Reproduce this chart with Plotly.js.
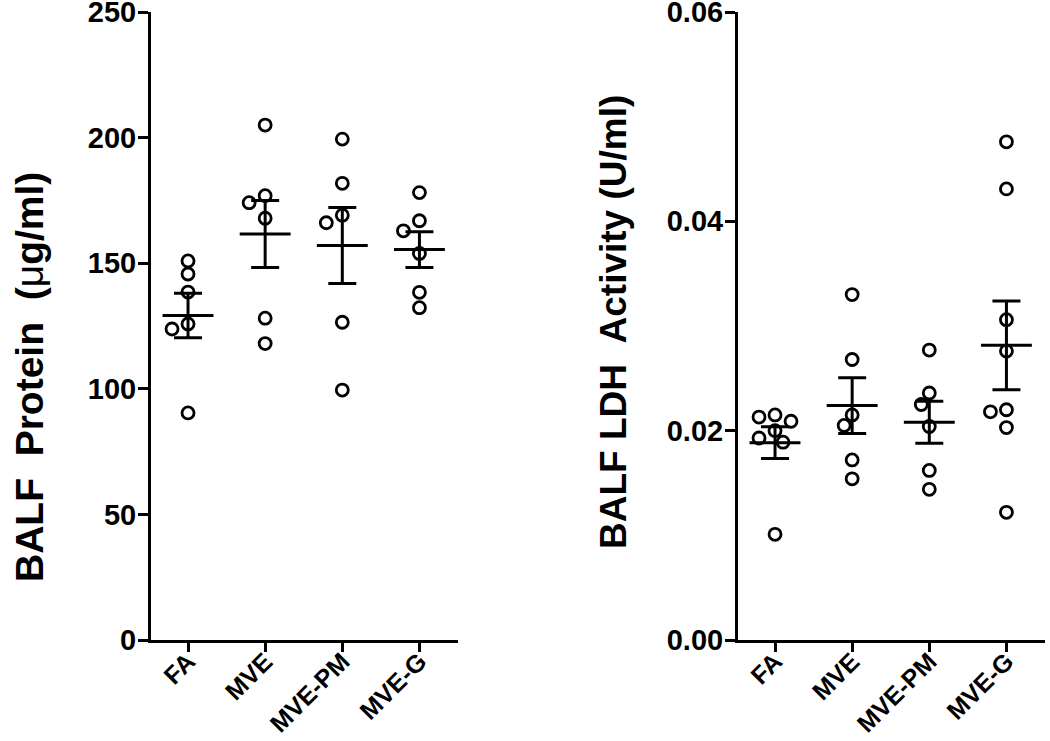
<!DOCTYPE html>
<html>
<head>
<meta charset="utf-8">
<script src="https://cdn.plot.ly/plotly-3.0.1.min.js"></script>
<style>html,body{margin:0;padding:0;background:#fff;}#chart{width:1050px;height:741px;}</style>
</head>
<body>
<div id="chart"></div>
<script>
// ---- data ----
const categories = ['FA', 'MVE', 'MVE-PM', 'MVE-G'];

const proteinFA    = [150.9, 145.7, 138.5, 125.8, 123.8, 90.4];
const proteinMVE   = [205.0, 176.9, 174.1, 167.9, 128.1, 118.0];
const proteinMVEPM = [199.4, 181.8, 169.1, 166.1, 126.5, 99.5];
const proteinMVEG  = [178.1, 166.9, 162.9, 153.9, 138.4, 132.3];

const ldhFA    = [0.0215, 0.0213, 0.0209, 0.0200, 0.0193, 0.0189, 0.0101];
const ldhMVE   = [0.0330, 0.0268, 0.0215, 0.0205, 0.0172, 0.0154];
const ldhMVEPM = [0.0277, 0.0236, 0.0225, 0.0204, 0.0162, 0.0144];
const ldhMVEG  = [0.0476, 0.0431, 0.0306, 0.0276, 0.0220, 0.0218, 0.0203, 0.0122];

const proteinTicks = [0, 50, 100, 150, 200, 250];
const ldhTicks = [0, 0.02, 0.04, 0.06];
const ldhTickText = ['0.00', '0.02', '0.04', '0.06'];

const proteinTitle = 'BALF\u00a0\u00a0Protein\u00a0\u00a0(<span style="font-weight:normal">\u03bc</span>g/ml)';
const ldhTitle = 'BALF LDH\u00a0\u00a0Activity (U/ml)';

// ---- layout constants ----
const W = 1050, H = 741;
const mT = 12, mB = 101;
const plotH = H - mT - mB;
const leftDom = [151 / W, 458 / W];
const rightDom = [738 / W, 1045 / W];
const xRange = [-0.48, 3.5];
const pxPerCat = (leftDom[1] - leftDom[0]) * W / (xRange[1] - xRange[0]);

function mean(a) { return a.reduce((s, v) => s + v, 0) / a.length; }
function sem(a) {
  const m = mean(a);
  const v = a.reduce((s, x) => s + (x - m) * (x - m), 0) / (a.length - 1);
  return Math.sqrt(v) / Math.sqrt(a.length);
}
// simple beeswarm in pixel space; returns offsets in category units
function swarm(values, pxPerUnit) {
  const D = 13, step = 8;
  const placed = [];
  const out = [];
  values.forEach(v => {
    const yp = v * pxPerUnit;
    const ks = [0, -1, 1, -2, 2, -3, 3];
    for (const k of ks) {
      const xo = k * step;
      if (placed.every(p => Math.hypot(p.x - xo, p.y - yp) >= D)) {
        placed.push({x: xo, y: yp});
        out.push(xo / pxPerCat);
        break;
      }
    }
  });
  return out;
}

function panelTraces(groups, yMax, xa, ya) {
  const pxPerUnit = plotH / yMax;
  const px = [], py = [];
  const lx = [], ly = [];
  const ex = [], ey = [], es = [];
  groups.forEach((g, i) => {
    const offs = swarm(g, pxPerUnit);
    g.forEach((v, j) => { px.push(i + offs[j]); py.push(v); });
    const m = mean(g);
    lx.push(i - 0.33, i + 0.33, null); ly.push(m, m, null);
    ex.push(i); ey.push(m); es.push(sem(g));
  });
  return [
    {type: 'scatter', mode: 'markers', x: px, y: py, xaxis: xa, yaxis: ya,
     cliponaxis: false, hoverinfo: 'y',
     marker: {symbol: 'circle-open', size: 12, color: '#000', line: {width: 2.8, color: '#000'}}},
    {type: 'scatter', mode: 'lines', x: lx, y: ly, xaxis: xa, yaxis: ya,
     cliponaxis: false, hoverinfo: 'skip', line: {color: '#000', width: 3}},
    {type: 'scatter', mode: 'markers', x: ex, y: ey, xaxis: xa, yaxis: ya,
     cliponaxis: false, hoverinfo: 'skip',
     marker: {size: 1, color: 'rgba(0,0,0,0)'},
     error_y: {type: 'data', array: es, visible: true, color: '#000', thickness: 3, width: 14}}
  ];
}

const traces = [].concat(
  panelTraces([proteinFA, proteinMVE, proteinMVEPM, proteinMVEG], 250, 'x', 'y'),
  panelTraces([ldhFA, ldhMVE, ldhMVEPM, ldhMVEG], 0.06, 'x2', 'y2')
);

const fontFam = '"Liberation Sans", Arial, sans-serif';
const xTickFont = {family: fontFam, size: 25, color: '#000', weight: 'bold'};
const yTickFont = {family: fontFam, size: 29, color: '#000', weight: 'bold'};
const leftTitleFont = {family: fontFam, size: 39, color: '#000', weight: 'bold'};
const rightTitleFont = {family: fontFam, size: 37, color: '#000', weight: 'bold'};

function xAxis(dom, anchor) {
  return {domain: dom, anchor: anchor, range: xRange, tickmode: 'array',
    tickvals: [0, 1, 2, 3], ticktext: categories, tickangle: -45,
    ticks: 'outside', ticklen: 9, tickwidth: 3, tickcolor: '#000',
    ticklabelstandoff: -15,
    showline: true, linewidth: 3, linecolor: '#000', showgrid: false, zeroline: false,
    tickfont: xTickFont, fixedrange: true};
}
function yAxis(range, vals, text, anchor) {
  return {domain: [0, 1], anchor: anchor, range: range, tickmode: 'array',
    tickvals: vals, ticktext: text,
    ticks: 'outside', ticklen: 10, tickwidth: 3, tickcolor: '#000',
    ticklabelstandoff: -4, ticklabeloverflow: 'allow',
    showline: true, linewidth: 3, linecolor: '#000', showgrid: false, zeroline: false,
    tickfont: yTickFont, fixedrange: true};
}

const layout = {
  width: W, height: H,
  margin: {l: 0, r: 0, t: mT, b: mB},
  paper_bgcolor: '#fff', plot_bgcolor: '#fff',
  showlegend: false,
  xaxis: xAxis(leftDom, 'y'),
  yaxis: yAxis([0, 250], proteinTicks, proteinTicks.map(String), 'x'),
  xaxis2: xAxis(rightDom, 'y2'),
  yaxis2: yAxis([0, 0.06], ldhTicks, ldhTickText, 'x2'),
  annotations: [
    {text: proteinTitle, textangle: -90, xref: 'paper', yref: 'paper',
     x: 29 / W, y: 1 - (377 - mT) / plotH, xanchor: 'center', yanchor: 'middle',
     showarrow: false, font: leftTitleFont},
    {text: ldhTitle, textangle: -90, xref: 'paper', yref: 'paper',
     x: 613 / W, y: 1 - (322 - mT) / plotH, xanchor: 'center', yanchor: 'middle',
     showarrow: false, font: rightTitleFont}
  ]
};

Plotly.newPlot('chart', traces, layout, {displayModeBar: false, staticPlot: true});
</script>
</body>
</html>
